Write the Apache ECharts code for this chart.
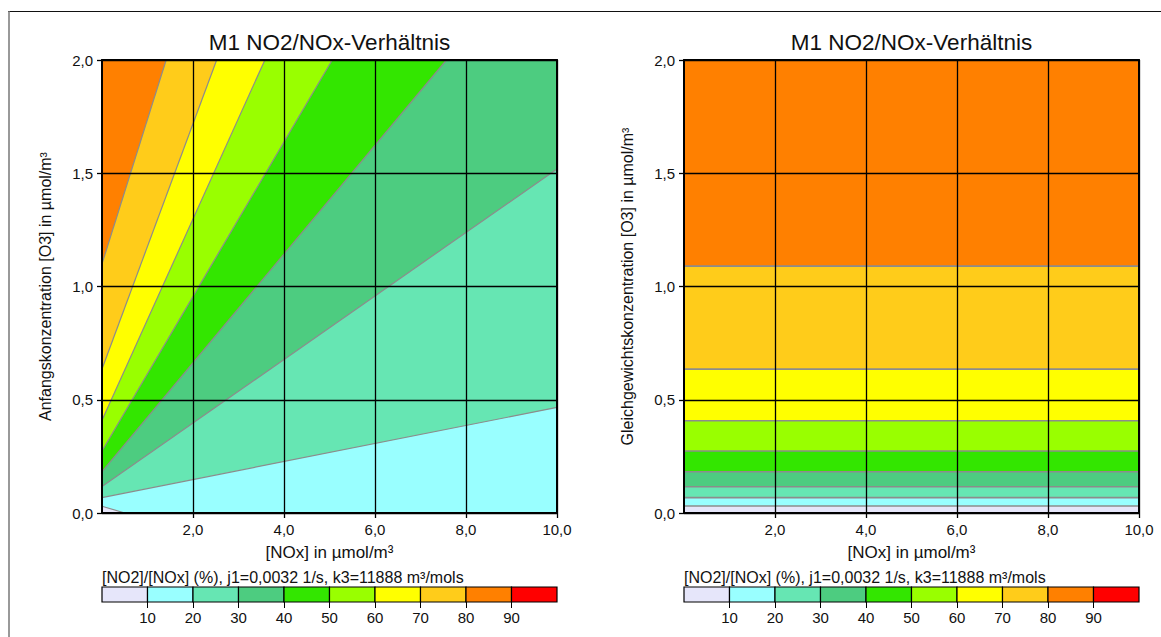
<!DOCTYPE html>
<html>
<head>
<meta charset="utf-8">
<script src="https://cdn.jsdelivr.net/npm/echarts@6/dist/echarts.min.js"></script>
<style>
html,body{margin:0;padding:0;background:#fff;}
#main{width:1161px;height:637px;}
</style>
</head>
<body>
<div id="main"></div>
<script>
// ---- data ----
const chartTitle = 'M1 NO2/NOx-Verhältnis';
const xName = '[NOx] in µmol/m³';
const yNameLeft = 'Anfangskonzentration [O3] in µmol/m³';
const yNameRight = 'Gleichgewichtskonzentration [O3] in µmol/m³';
const legendTitle = '[NO2]/[NOx] (%), j1=0,0032 1/s, k3=11888 m³/mols';

const levels = [10, 20, 30, 40, 50, 60, 70, 80, 90];
const bandColors = ['#E6E6FA', '#99FFFF', '#66E6B3', '#4DCC80', '#33E600',
                    '#99FF00', '#FFFF00', '#FFCC1A', '#FF8000', '#FF0000'];
const xTickLabels = [2, 4, 6, 8, 10];

// left panel: contour boundaries [NOx, O3 initial] for 10 % ... 80 %
const bound10 = [[0, 0.030], [0.50, 0], [10, 0]];
const bound20 = [[0, 0.068], [10, 0.466]];
const bound30 = [[0, 0.117], [10, 1.519]];
const bound40 = [[0, 0.183], [7.57, 2.0]];
const bound50 = [[0, 0.274], [5.06, 2.0]];
const bound60 = [[0, 0.410], [3.58, 2.0]];
const bound70 = [[0, 0.636], [2.52, 2.0]];
const bound80 = [[0, 1.100], [1.41, 2.0]];
const leftBounds = [bound10, bound20, bound30, bound40, bound50, bound60, bound70, bound80];

// right panel: equilibrium O3 at the 10 % ... 80 % boundaries
const eqBounds = [0.031, 0.068, 0.116, 0.182, 0.274, 0.407, 0.635, 1.090];

// ---- chart ----
const FONT = 'Liberation Sans, Arial, Helvetica, sans-serif';
const fmt = v => Number(v).toFixed(1).replace('.', ',');
const chart = echarts.init(document.getElementById('main'), null, {renderer: 'svg'});

const grids = [
  {left: 102, top: 60, width: 455, height: 453},
  {left: 684, top: 60, width: 455, height: 453},
  {left: 102, top: 587, width: 455, height: 15},
  {left: 684, top: 587, width: 455, height: 15}
];

function plotX(g) {
  return {type: 'value', gridIndex: g, min: 0, max: 10, interval: 2, z: 6,
    axisLine: {show: true, onZero: false, lineStyle: {color: '#000', width: 2}},
    axisTick: {show: true, customValues: xTickLabels, length: 5, lineStyle: {color: '#000', width: 1.3}},
    axisLabel: {customValues: xTickLabels, formatter: fmt, color: '#111', fontSize: 15, margin: 9, fontFamily: FONT},
    splitLine: {show: true, lineStyle: {color: '#000', width: 1.3}}};
}
function plotY(g) {
  return {type: 'value', gridIndex: g, min: 0, max: 2, interval: 0.5, z: 6,
    axisLine: {show: true, onZero: false, lineStyle: {color: '#000', width: 2}},
    axisTick: {show: true, length: 5, lineStyle: {color: '#000', width: 1.3}},
    axisLabel: {formatter: fmt, color: '#111', fontSize: 15, margin: 9, fontFamily: FONT},
    splitLine: {show: true, lineStyle: {color: '#000', width: 1.3}}};
}
function topX(g) {
  return {type: 'value', gridIndex: g, position: 'top', min: 0, max: 10, z: 6,
    axisLine: {show: true, onZero: false, lineStyle: {color: '#000', width: 2}},
    axisTick: {show: false}, axisLabel: {show: false}, splitLine: {show: false}};
}
function rightY(g) {
  return {type: 'value', gridIndex: g, position: 'right', min: 0, max: 2, z: 6,
    axisLine: {show: true, onZero: false, lineStyle: {color: '#000', width: 2}},
    axisTick: {show: false}, axisLabel: {show: false}, splitLine: {show: false}};
}
function barX(g) {
  return {type: 'value', gridIndex: g, min: 0, max: 100, interval: 10, z: 6,
    axisLine: {show: false},
    axisTick: {show: true, customValues: levels, length: 6, lineStyle: {color: '#000', width: 1}},
    axisLabel: {customValues: levels, color: '#111', fontSize: 15, margin: 8, fontFamily: FONT},
    splitLine: {show: false}};
}
function barY(g) {
  return {type: 'value', gridIndex: g, min: 0, max: 1, show: false};
}

const series = [];
// left panel base + bands
series.push({type: 'line', xAxisIndex: 0, yAxisIndex: 0, data: [[0, 0], [10, 0]], symbol: 'none',
  lineStyle: {width: 0}, areaStyle: {origin: 'end', color: bandColors[0], opacity: 1}, z: 2, silent: true});
leftBounds.forEach((b, i) => {
  series.push({type: 'line', xAxisIndex: 0, yAxisIndex: 0, data: b, symbol: 'none', clip: true,
    lineStyle: {color: '#8c8c8c', width: 1.2},
    areaStyle: {origin: 'end', color: bandColors[i + 1], opacity: 1}, z: 2, silent: true});
});
// right panel base + bands
series.push({type: 'line', xAxisIndex: 1, yAxisIndex: 1, data: [[0, 0], [10, 0]], symbol: 'none',
  lineStyle: {width: 0}, areaStyle: {origin: 'end', color: bandColors[0], opacity: 1}, z: 2, silent: true});
eqBounds.forEach((v, i) => {
  series.push({type: 'line', xAxisIndex: 1, yAxisIndex: 1, data: [[0, v], [10, v]], symbol: 'none', clip: true,
    lineStyle: {color: '#8c8c8c', width: 1.6},
    areaStyle: {origin: 'end', color: bandColors[i + 1], opacity: 1}, z: 2, silent: true});
});
// colour bars (axes 4 and 5 belong to grids 2 and 3)
const bins = bandColors.map((c, i) => [i * 10, i * 10 + 10, i]);
function renderBin(params, api) {
  const p0 = api.coord([api.value(0), 1]);
  const p1 = api.coord([api.value(1), 0]);
  return {type: 'rect', shape: {x: p0[0], y: p0[1], width: p1[0] - p0[0], height: p1[1] - p0[1]},
    style: {fill: bandColors[api.value(2)], stroke: '#000', lineWidth: 1.2}};
}
[4, 5].forEach(a => {
  series.push({type: 'custom', xAxisIndex: a, yAxisIndex: a, data: bins, renderItem: renderBin,
    encode: {x: [0, 1]}, silent: true, z: 3});
});

const txt = (x, y, text, size, align, rot) => ({type: 'text', x: x, y: y, rotation: rot || 0, silent: true,
  style: {text: text, fill: '#111', font: size + 'px ' + FONT, textAlign: align || 'center', textVerticalAlign: 'middle'}});

const graphic = [
  {type: 'line', silent: true, shape: {x1: 8, y1: 11.5, x2: 1161, y2: 11.5}, style: {stroke: '#111', lineWidth: 1}},
  {type: 'line', silent: true, shape: {x1: 9, y1: 11, x2: 9, y2: 637}, style: {stroke: '#777', lineWidth: 1.5}},
  txt(329.5, 42, chartTitle, 22.5),
  txt(911.5, 42, chartTitle, 22.5),
  txt(329.5, 552, xName, 17),
  txt(911.5, 552, xName, 17),
  txt(45, 286.5, yNameLeft, 16, 'center', Math.PI / 2),
  txt(627, 286.5, yNameRight, 16, 'center', Math.PI / 2),
  txt(102, 577, legendTitle, 16, 'left'),
  txt(684, 577, legendTitle, 16, 'left')
];

chart.setOption({
  animation: false,
  backgroundColor: '#fff',
  textStyle: {fontFamily: FONT},
  grid: grids,
  xAxis: [plotX(0), plotX(1), topX(0), topX(1), barX(2), barX(3)],
  yAxis: [plotY(0), plotY(1), rightY(0), rightY(1), barY(2), barY(3)],
  series: series,
  graphic: graphic
});
</script>
</body>
</html>
